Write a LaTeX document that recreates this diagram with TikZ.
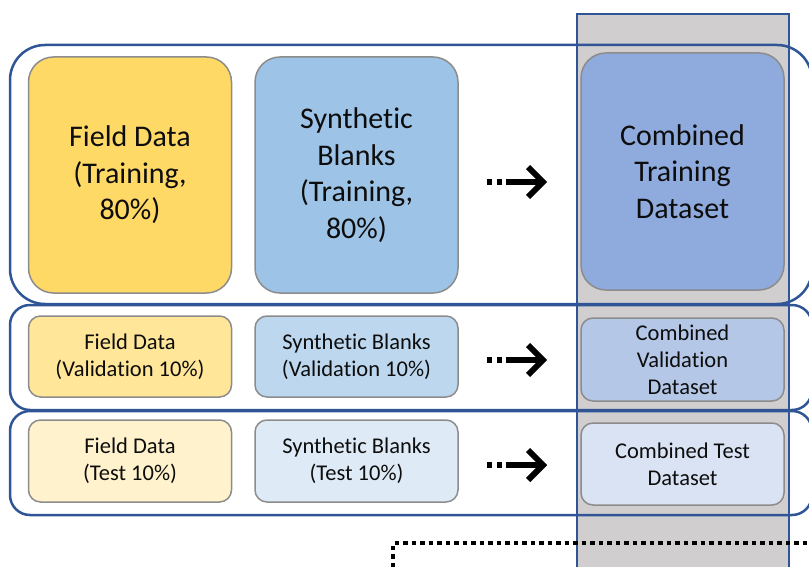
\documentclass[tikz,border=0pt]{standalone}
\usepackage{fontspec}
\setmainfont{Carlito}[Ligatures={NoCommon}]
\definecolor{outblue}{HTML}{2F5597}
\definecolor{colgray}{HTML}{D0CECE}
\definecolor{boxgray}{HTML}{8C8C8C}
\definecolor{txt}{HTML}{0D0D0D}
\definecolor{fd1}{HTML}{FFD966}
\definecolor{fd2}{HTML}{FFE699}
\definecolor{fd3}{HTML}{FFF2CC}
\definecolor{sb1}{HTML}{9DC3E6}
\definecolor{sb2}{HTML}{BDD7EE}
\definecolor{sb3}{HTML}{DEEBF7}
\definecolor{cb1}{HTML}{8FAADC}
\definecolor{cb2}{HTML}{B4C7E7}
\definecolor{cb3}{HTML}{DAE3F3}
\begin{document}
\begin{tikzpicture}[x=1pt,y=-1pt,
  box/.style={draw=boxgray, line width=1.5pt, align=center, text=txt, inner sep=0pt},
  bigbox/.style={box, rounded corners=25pt, minimum width=203pt, minimum height=236pt, font=\fontsize{30}{36.5}\selectfont},
  smallbox/.style={box, rounded corners=12pt, minimum width=203pt, minimum height=82pt, font=\fontsize{22.5}{27}\selectfont},
  rowline/.style={draw=outblue, line width=2.5pt},
  arrdot/.style={line width=5.5pt, dash pattern=on 5pt off 5pt, black},
  arrsolid/.style={line width=5.5pt, black, line join=miter},
  arrhead/.style={line width=6pt, black, line join=miter}
]
\useasboundingbox (0,0) rectangle (809,567);
\clip (0,0) rectangle (809,567);
% gray column
\fill[colgray] (577,14) rectangle (789,580);
% row outlines
\draw[rowline, rounded corners=35pt] (10,45) rectangle (812,304);
\draw[rowline, rounded corners=20pt] (10,305) rectangle (812,410);
\draw[rowline, rounded corners=20pt] (10,411) rectangle (812,515);
% column border
\draw[outblue, line width=2.5pt] (577,14) rectangle (789,580);
% boxes row 1
\node[bigbox, fill=fd1] (fdtr) at (130,175) {Field Data\\(Training,\\80\%)};
\node[bigbox, fill=sb1] (sbtr) at (356.5,175) {Synthetic\\Blanks\\(Training,\\80\%)};
\node[bigbox, fill=cb1, minimum height=237pt] (cbtr) at (682.5,171.5) {Combined\\Training\\Dataset};
% row 2
\node[smallbox, fill=fd2, minimum height=81pt] (fdva) at (130,356.5) {Field Data\\(Validation 10\%)};
\node[smallbox, fill=sb2, minimum height=81pt] (sbva) at (356.5,356.5) {Synthetic Blanks\\(Validation 10\%)};
\node[smallbox, fill=cb2, minimum height=83pt] (cbva) at (682.5,359.5) {Combined\\Validation\\Dataset};
% row 3
\node[smallbox, fill=fd3] (fdte) at (130,461) {Field Data\\(Test 10\%)};
\node[smallbox, fill=sb3] (sbte) at (356.5,461) {Synthetic Blanks\\(Test 10\%)};
\node[smallbox, fill=cb3] (cbte) at (682.5,464) {Combined Test\\Dataset};
% arrows
\foreach \yy in {182,360,465}{
  \draw[arrdot] (487,\yy) -- (503,\yy);
  \draw[arrsolid] (506,\yy) -- (542,\yy);
  \draw[arrhead] (528,\yy-15) -- (543,\yy) -- (528,\yy+15);
}
% bottom dotted line
\coordinate (dstart) at (393,567);
\coordinate (dcorner) at (393,543);
\coordinate (dend) at (812,543);
\draw[line width=4.5pt, dash pattern=on 4.5pt off 4pt, black] (dstart) -- (dcorner) -- (dend);
\end{tikzpicture}
\end{document}
